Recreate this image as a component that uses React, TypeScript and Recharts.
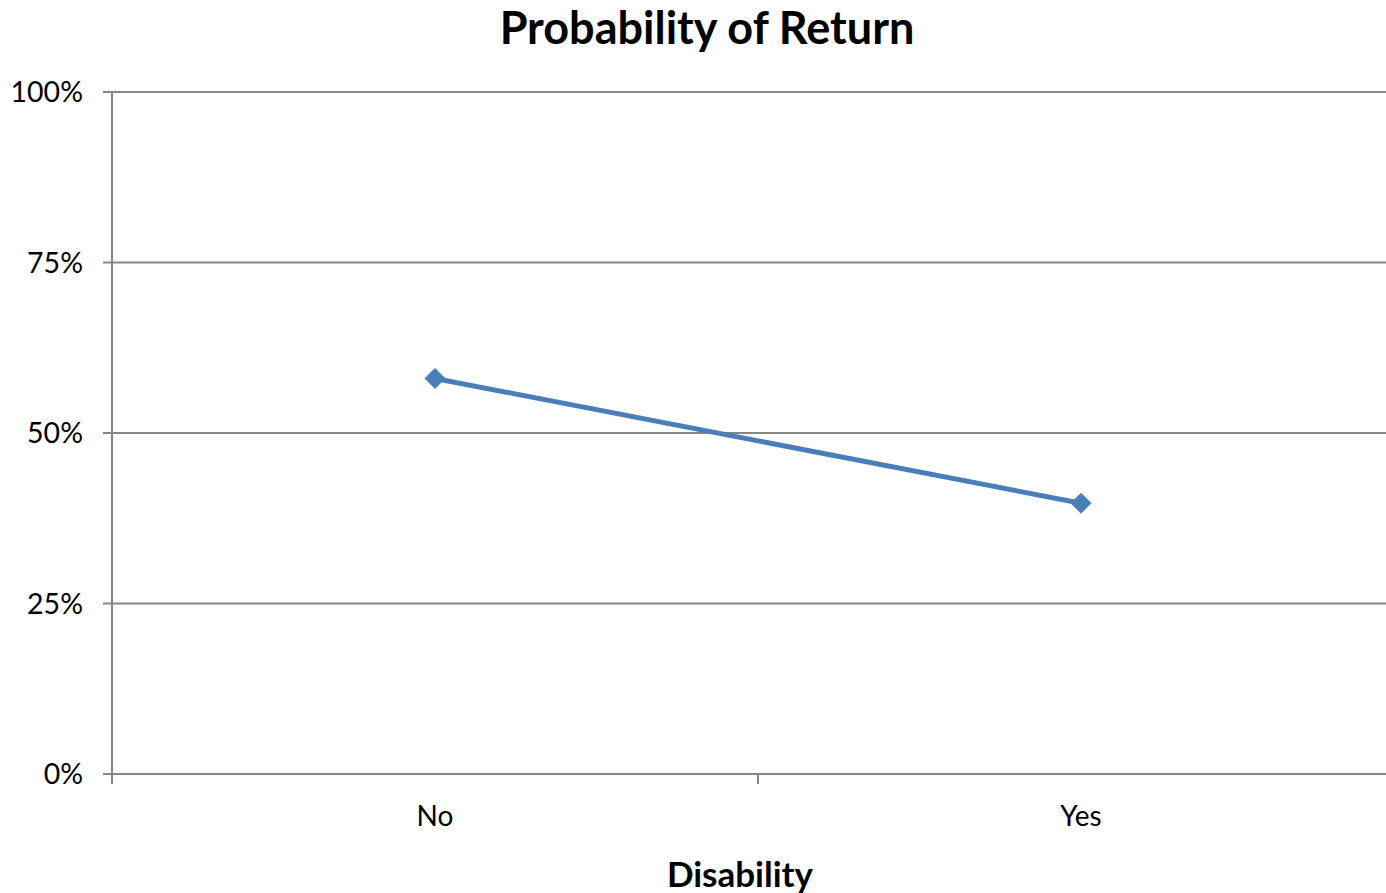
import React from "react";
import { LineChart, Line, XAxis, YAxis, CartesianGrid, Label } from "recharts";

const categories = ["No", "Yes"];
const values = [58, 39.7];
const yTicks = [0, 25, 50, 75, 100];
const title = "Probability of Return";
const xTitle = "Disability";

const data = categories.map((c, i) => ({ pos: i + 0.5, cat: c, value: values[i] }));
const boundaryTicks = categories.map((_, i) => i).concat([categories.length]);
const centerTicks = categories.map((_, i) => i + 0.5);

const FONT = "Lato, 'Open Sans', sans-serif";
const AXIS = "#868686";
const LINE = "#4A7EBB";

const Diamond = (props: any) => {
  const { cx, cy } = props;
  const r = 10;
  return (
    <path
      d={`M${cx},${cy - r}L${cx + r},${cy}L${cx},${cy + r}L${cx - r},${cy}Z`}
      fill={LINE}
      stroke={LINE}
      strokeWidth={1}
    />
  );
};

const CatTick = (props: any) => {
  const { x, y, payload } = props;
  const idx = Math.round(payload.value - 0.5);
  return (
    <text x={x} y={y} textAnchor="middle" fontFamily={FONT} fontSize={28} fill="#000" dy={30}>
      {categories[idx]}
    </text>
  );
};

const EmptyTick = () => <g />;

export default function App() {
  return (
    <div style={{ position: "fixed", left: 0, top: 0, width: 1386, height: 893, overflow: "hidden", background: "#fff" }}>
      <div
        style={{
          position: "absolute",
          left: 0,
          top: 0,
          width: 1414,
          textAlign: "center",
          fontFamily: FONT,
          fontWeight: 700,
          fontSize: 45,
          color: "#000",
        }}
      >
        {title}
      </div>
      <LineChart width={1420} height={893} data={data} margin={{ top: 92, right: 16, bottom: 0, left: 0 }}>
        <CartesianGrid vertical={false} stroke={AXIS} strokeWidth={2} />
        <XAxis
          xAxisId="a"
          dataKey="pos"
          type="number"
          domain={[0, categories.length]}
          ticks={boundaryTicks}
          tick={<EmptyTick />}
          tickSize={10}
          height={1}
          axisLine={{ stroke: AXIS, strokeWidth: 2 }}
          tickLine={{ stroke: AXIS, strokeWidth: 2 }}
          interval={0}
        />
        <XAxis
          xAxisId="b"
          dataKey="pos"
          type="number"
          domain={[0, categories.length]}
          ticks={centerTicks}
          tick={<CatTick />}
          tickSize={0}
          tickMargin={21}
          height={118}
          axisLine={false}
          tickLine={false}
          interval={0}
        >
          <Label
            value={xTitle}
            position="insideBottom"
            offset={6}
            dx={-18}
            style={{ fontFamily: FONT, fontWeight: 700, fontSize: 35, fill: "#000" }}
          />
        </XAxis>
        <YAxis
          domain={[0, 100]}
          ticks={yTicks}
          width={112}
          tickFormatter={(v: number) => `${v}%`}
          tickSize={9}
          tickMargin={20}
          tick={{ fontFamily: FONT, fontSize: 28.5, fill: "#000" }}
          axisLine={{ stroke: AXIS, strokeWidth: 2 }}
          tickLine={{ stroke: AXIS, strokeWidth: 2 }}
          interval={0}
        />
        <Line
          xAxisId="b"
          dataKey="value"
          stroke={LINE}
          strokeWidth={5}
          dot={<Diamond />}
          activeDot={false}
          isAnimationActive={false}
        />
      </LineChart>
    </div>
  );
}
